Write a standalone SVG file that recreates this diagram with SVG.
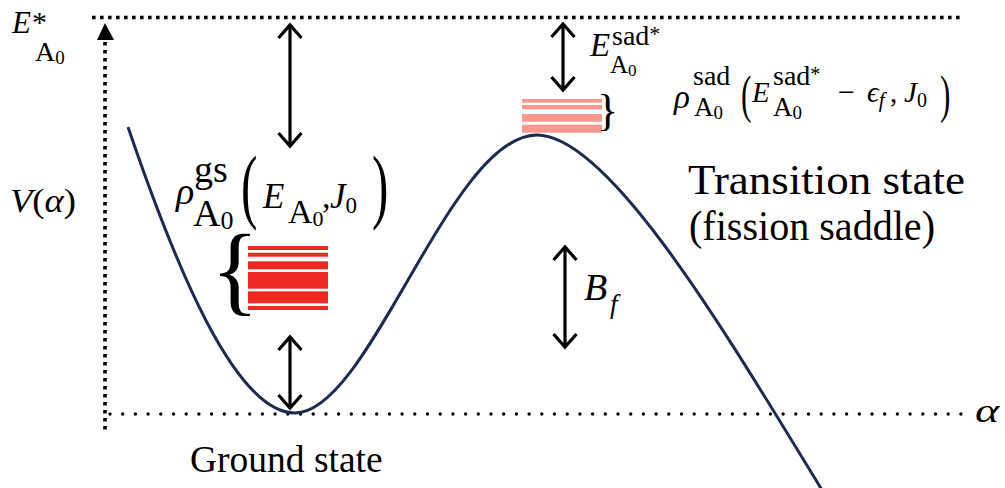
<svg xmlns="http://www.w3.org/2000/svg" width="1005" height="488" viewBox="0 0 1005 488">
<style>
.t{font-family:"Liberation Serif","DejaVu Serif",serif;fill:#000}
.i{font-style:italic}
.dsq{stroke:#000;stroke-width:3.6;fill:none}
.arr{stroke:#000;stroke-width:3.2;fill:none;marker-start:url(#ah);marker-end:url(#ah)}
.red{fill:#ee2a24}
.pink{fill:#f99791}
</style>
<defs>
<marker id="ah" viewBox="-16 -14 20 28" refX="0" refY="0" markerWidth="20" markerHeight="28" markerUnits="userSpaceOnUse" orient="auto-start-reverse">
<path d="M-13,-11.5 L0,0 L-13,11.5" fill="none" stroke="#000" stroke-width="3.2"/>
</marker>
</defs>
<rect width="1005" height="488" fill="#fff"/>

<g id="axes">
<line class="dsq" x1="92" y1="17.5" x2="962" y2="17.5" stroke-dasharray="3.6 4.4"/>
<line class="dsq" x1="105" y1="42" x2="105" y2="434" stroke-dasharray="3.6 4.4"/>
<polygon points="105,23 97,40 114,40" fill="#000"/>
<line x1="110" y1="414" x2="970" y2="414" stroke="#000" stroke-width="3.4" stroke-linecap="round" stroke-dasharray="0 12.7"/>
</g>

<g id="curve">
<path d="M128,127 C175,265 235,413 295,413 C370,413 450,135 537,135 C610,135 730,340 822,490" fill="none" stroke="#1e2b4f" stroke-width="3"/>
</g>

<g id="gs-levels">
<rect class="red" x="248" y="246" width="80" height="4"/>
<rect class="red" x="248" y="252.7" width="80" height="4"/>
<rect class="red" x="248" y="261.3" width="80" height="8"/>
<rect class="red" x="248" y="272" width="80" height="16.7"/>
<rect class="red" x="248" y="291.3" width="80" height="12"/>
<rect class="red" x="248" y="306" width="80" height="4"/>
<text class="t" x="211" y="303" font-size="100">{</text>
</g>

<g id="sad-levels">
<rect class="pink" x="522" y="99" width="80" height="3.7"/>
<rect class="pink" x="522" y="105" width="80" height="4.3"/>
<rect class="pink" x="522" y="114" width="80" height="7.7"/>
<rect class="pink" x="522" y="124.7" width="80" height="8"/>
<text class="t" x="597" y="125" font-size="44">}</text>
</g>

<g id="connectors">
<path class="arr" d="M290,25 V146"/>
<path class="arr" d="M563,24 V90"/>
<path class="arr" d="M565,247 V347"/>
<path class="arr" d="M290,337 V408"/>
</g>

<g id="label-Estar">
<text class="t i" x="12" y="33" font-size="31">E<tspan font-style="normal" font-size="30" dy="-1" dx="1">*</tspan></text>
<text class="t" x="35" y="61" font-size="28">A<tspan font-size="19" dy="3">0</tspan></text>
</g>

<g id="label-V">
<text class="t" x="10" y="212" font-size="33" textLength="66" lengthAdjust="spacingAndGlyphs"><tspan class="i">V</tspan>(<tspan class="i">α</tspan>)</text>
</g>

<g id="label-alpha">
<text class="t i" transform="translate(975,422) scale(1.35,1)" font-size="34">α</text>
</g>

<g id="label-ground">
<text class="t" x="190" y="472" font-size="37.5">Ground state</text>
</g>

<g id="label-transition">
<text class="t" x="688" y="194" font-size="43" textLength="277" lengthAdjust="spacingAndGlyphs">Transition state</text>
<text class="t" x="689" y="240" font-size="43" textLength="246" lengthAdjust="spacingAndGlyphs">(fission saddle)</text>
</g>

<g id="label-Esad">
<text class="t i" x="590" y="56" font-size="33">E</text>
<text class="t" x="612" y="45" font-size="28">sad<tspan font-size="22" dy="-4">*</tspan></text>
<text class="t" x="610" y="73" font-size="25">A<tspan font-size="17" dy="3">0</tspan></text>
</g>

<g id="label-Bf">
<text class="t i" x="584" y="300" font-size="38">B</text>
<text class="t i" x="610" y="313" font-size="27">f</text>
</g>

<g id="label-rho-gs">
<text class="t i" x="176" y="204" font-size="38">ρ</text>
<text class="t" x="194" y="182" font-size="38">gs</text>
<text class="t" x="193" y="226" font-size="38">A<tspan font-size="26" dy="3">0</tspan></text>
<text class="t" transform="translate(241,213) scale(0.6,1)" font-size="82">(</text>
<text class="t i" x="263" y="208" font-size="35">E</text>
<text class="t" x="288" y="223" font-size="34">A<tspan font-size="22" dy="3">0</tspan></text>
<text class="t" x="322" y="208" font-size="34">,</text>
<text class="t i" x="330" y="208" font-size="35">J<tspan font-style="normal" font-size="23" dy="5">0</tspan></text>
<text class="t" transform="translate(372,213) scale(0.6,1)" font-size="82">)</text>
</g>

<g id="label-rho-sad">
<text class="t i" x="674" y="108" font-size="33">ρ</text>
<text class="t" x="693" y="85" font-size="28">sad</text>
<text class="t" x="694" y="116" font-size="27">A<tspan font-size="19" dy="3">0</tspan></text>
<text class="t" transform="translate(741,112) scale(0.6,1)" font-size="52">(</text>
<text class="t i" x="752" y="102" font-size="29">E</text>
<text class="t" x="773" y="85" font-size="28">sad<tspan font-size="20" dy="-4">*</tspan></text>
<text class="t" x="773" y="116" font-size="27">A<tspan font-size="19" dy="3">0</tspan></text>
<text class="t" x="838" y="102" font-size="30">−</text>
<text class="t i" x="867" y="102" font-size="29">ϵ<tspan font-size="21" dy="5">f</tspan></text>
<text class="t" x="890" y="102" font-size="29">,</text>
<text class="t i" x="904" y="102" font-size="29">J<tspan font-style="normal" font-size="20" dy="5">0</tspan></text>
<text class="t" transform="translate(940,112) scale(0.6,1)" font-size="52">)</text>
</g>
</svg>
